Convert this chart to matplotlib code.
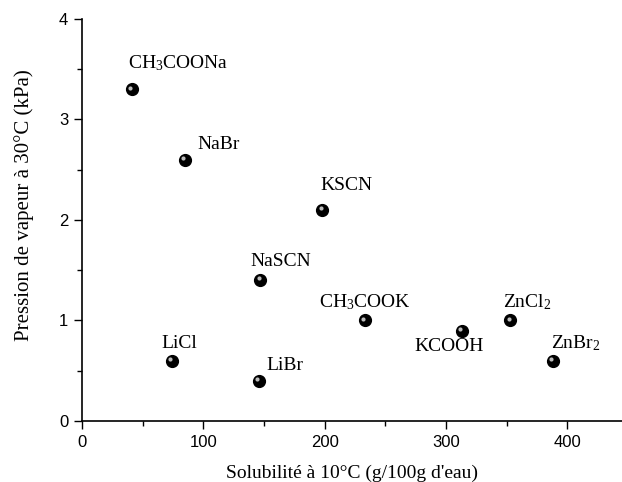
import matplotlib
matplotlib.use("Agg")
import matplotlib.pyplot as plt
from matplotlib.ticker import MultipleLocator
import matplotlib.transforms as mtransforms

salts = ["CH$_3$COONa", "NaBr", "KSCN", "NaSCN", "CH$_3$COOK", "KCOOH",
         "ZnCl$_2$", "ZnBr$_2$", "LiCl", "LiBr"]
solubility = [41, 85, 198, 147, 233, 313, 353, 388, 74, 146]
pressure = [3.3, 2.6, 2.1, 1.4, 1.0, 0.9, 1.0, 0.6, 0.6, 0.4]
# label offsets in pixels (dx to left edge, dy to centre)
offsets = [(-4, 26), (12, 15), (-2, 24), (-10, 19), (-46, 18), (-47, -16),
           (-7, 18), (-2, 18), (-10, 17), (7, 15)]

plt.rcParams['mathtext.fontset'] = 'custom'
plt.rcParams['mathtext.rm'] = 'Liberation Serif'
plt.rcParams['mathtext.it'] = 'Liberation Serif:italic'

fig = plt.figure(figsize=(6.22, 4.82), dpi=100)
ax = fig.add_axes([0.132, 0.1266, 0.868, 0.834])

ax.scatter(solubility, pressure, s=72, color='black', zorder=3)
hl = mtransforms.offset_copy(ax.transData, fig=fig, x=-1.3, y=1.3, units='points')
ax.scatter(solubility, pressure, s=9, color='#bcbcbc', transform=hl, zorder=4,
           linewidths=0)

for name, x, y, (dx, dy) in zip(salts, solubility, pressure, offsets):
    ax.annotate(name, (x, y), xytext=(dx, dy), textcoords='offset pixels',
                ha='left', va='center', fontsize=14,
                family='Liberation Serif')

ax.set_xlim(0, 445)
ax.set_ylim(0, 4)
ax.xaxis.set_major_locator(MultipleLocator(100))
ax.xaxis.set_minor_locator(MultipleLocator(50))
ax.yaxis.set_major_locator(MultipleLocator(1))
ax.yaxis.set_minor_locator(MultipleLocator(0.5))
ax.tick_params(which='major', direction='out', length=6, width=1,
               labelsize=12, pad=4)
ax.tick_params(which='minor', direction='out', length=3.5, width=1)
for lbl in ax.get_xticklabels() + ax.get_yticklabels():
    lbl.set_family('Liberation Sans')
ax.spines['top'].set_visible(False)
ax.spines['right'].set_visible(False)
ax.spines['left'].set_linewidth(1.2)
ax.spines['bottom'].set_linewidth(1.2)

ax.set_xlabel("Solubilité à 10°C (g/100g d'eau)", family='Liberation Serif',
              fontsize=14, labelpad=11)
ax.set_ylabel("Pression de vapeur à 30°C (kPa)", family='Liberation Serif',
              fontsize=15)
ax.yaxis.set_label_coords(-0.09, 0.537)

fig.savefig("out.png", dpi=100)
